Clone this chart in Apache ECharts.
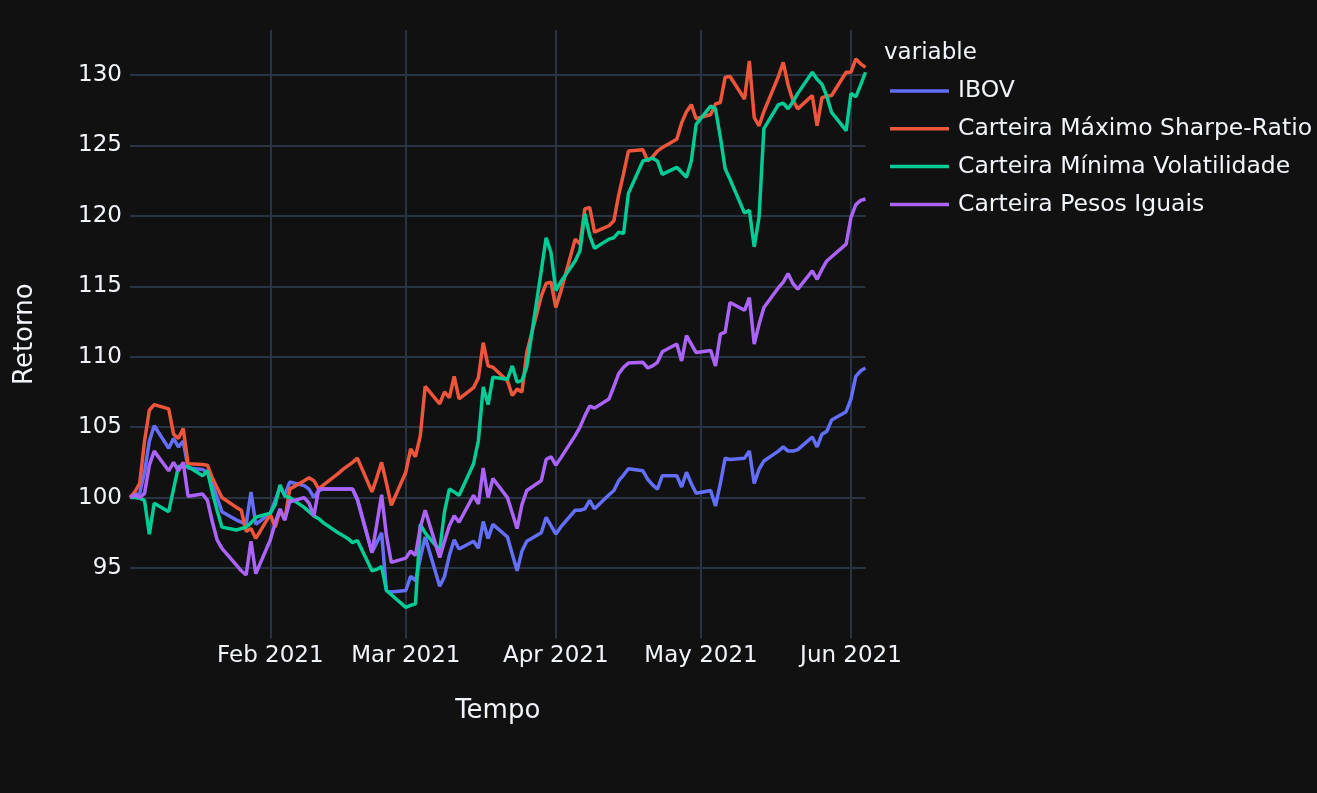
<!DOCTYPE html>
<html>
<head>
<meta charset="utf-8">
<title>Retorno das carteiras</title>
<script src="https://cdn.jsdelivr.net/npm/echarts@6/dist/echarts.min.js"></script>
<style>
  html, body { margin: 0; padding: 0; background: #111111; }
  #retorno { width: 1317px; height: 793px; }
</style>
</head>
<body>
<div id="retorno"></div>
<script>
// datas (dias úteis) e retornos acumulados, base 100
var datas = [
  '2021-01-03',
  '2021-01-04','2021-01-05','2021-01-06','2021-01-07','2021-01-08',
  '2021-01-11','2021-01-12','2021-01-13','2021-01-14','2021-01-15',
  '2021-01-18','2021-01-19','2021-01-20','2021-01-21','2021-01-22',
  '2021-01-25','2021-01-26','2021-01-27','2021-01-28','2021-01-29',
  '2021-02-01','2021-02-02','2021-02-03','2021-02-04','2021-02-05',
  '2021-02-08','2021-02-09','2021-02-10','2021-02-11','2021-02-12',
  '2021-02-15','2021-02-16','2021-02-17','2021-02-18','2021-02-19',
  '2021-02-22','2021-02-23','2021-02-24','2021-02-25','2021-02-26',
  '2021-03-01','2021-03-02','2021-03-03','2021-03-04','2021-03-05',
  '2021-03-08','2021-03-09','2021-03-10','2021-03-11','2021-03-12',
  '2021-03-15','2021-03-16','2021-03-17','2021-03-18','2021-03-19',
  '2021-03-22','2021-03-23','2021-03-24','2021-03-25','2021-03-26',
  '2021-03-29','2021-03-30','2021-03-31','2021-04-01','2021-04-02',
  '2021-04-05','2021-04-06','2021-04-07','2021-04-08','2021-04-09',
  '2021-04-12','2021-04-13','2021-04-14','2021-04-15','2021-04-16',
  '2021-04-19','2021-04-20','2021-04-21','2021-04-22','2021-04-23',
  '2021-04-26','2021-04-27','2021-04-28','2021-04-29','2021-04-30',
  '2021-05-03','2021-05-04','2021-05-05','2021-05-06','2021-05-07',
  '2021-05-10','2021-05-11','2021-05-12','2021-05-13','2021-05-14',
  '2021-05-17','2021-05-18','2021-05-19','2021-05-20','2021-05-21',
  '2021-05-24','2021-05-25','2021-05-26','2021-05-27','2021-05-28',
  '2021-05-31','2021-06-01','2021-06-02','2021-06-03','2021-06-04'
];

var ibov = [
  100,
  100.2, 100.3, 101.8, 104.0, 105.1,
  103.5, 104.2, 103.6, 104.0, 102.1,
  102.0, 101.8, 101.0, 100.0, 99.0,
  98.4, 98.25, 98.1, 100.4, 98.1,
  98.9, 99.8, 100.7, 100.2, 101.1,
  100.85, 100.6, 100.0, 100.5, 100.6,
  100.6, 100.6, 100.6, 100.6, 99.8,
  96.1, 96.8, 97.5, 93.4, 93.3,
  93.4, 94.4, 94.1, 95.7, 97.2,
  93.7, 94.4, 95.9, 97.0, 96.35,
  96.9, 96.4, 98.3, 97.1, 98.1,
  97.2, 96.0, 94.8, 96.2, 96.9,
  97.5, 98.6, 98.0, 97.4, 97.9,
  99.1, 99.1, 99.2, 99.8, 99.2,
  100.2, 100.5, 101.2, 101.6, 102.05,
  101.9, 101.3, 100.9, 100.6, 101.55,
  101.55, 100.75, 101.8, 101.0, 100.3,
  100.5, 99.4, 101.0, 102.8, 102.7,
  102.8, 103.3, 101.0, 102.0, 102.6,
  103.3, 103.6, 103.3, 103.3, 103.4,
  104.3, 103.6, 104.5, 104.7, 105.5,
  106.1, 107.0, 108.6, 109.0, 109.2
];

var maxSharpe = [
  100,
  100.4, 101.0, 104.0, 106.2, 106.6,
  106.3, 104.5, 104.2, 104.9, 102.4,
  102.35, 102.3, 101.4, 100.7, 100.0,
  99.3, 99.1, 97.6, 97.8, 97.1,
  98.8, 97.9, 99.1, 98.4, 100.6,
  101.2, 101.4, 101.2, 100.6, 100.9,
  101.7, 102.0, 102.25, 102.5, 102.8,
  100.4, 101.4, 102.5, 101.0, 99.45,
  101.8, 103.45, 102.9, 104.4, 107.9,
  106.65, 107.5, 107.1, 108.6, 107.0,
  107.8, 108.5, 111.0, 109.35, 109.25,
  108.3, 107.25, 107.7, 107.5, 110.3,
  114.3, 115.2, 115.3, 113.5, 114.6,
  118.35, 118.0, 120.5, 120.6, 118.85,
  119.3, 119.65, 121.5, 123.0, 124.6,
  124.7, 123.9, 124.2, 124.6, 124.85,
  125.45, 126.6, 127.4, 127.9, 126.9,
  127.2, 127.95, 128.05, 129.85, 129.9,
  128.3, 131.0, 127.0, 126.4, 127.4,
  129.9, 130.9, 129.3, 128.2, 127.6,
  128.55, 126.4, 128.4, 128.5, 128.55,
  130.2, 130.2, 131.15, 130.8, 130.55
];

var minVol = [
  100,
  100.0, 99.95, 99.8, 97.4, 99.6,
  99.0, 100.6, 102.2, 102.2, 102.2,
  101.55, 101.9, 100.4, 99.1, 97.9,
  97.7, 97.8, 97.9, 98.2, 98.6,
  98.9, 99.5, 100.9, 100.1, 100.0,
  99.3, 99.0, 98.7, 98.5, 98.2,
  97.5, 97.3, 97.1, 96.8, 96.95,
  94.8, 94.9, 95.1, 93.4, 93.1,
  92.2, 92.35, 92.45, 98.1, 97.5,
  96.25, 99.0, 100.6, 100.4, 100.15,
  102.4, 104.05, 107.85, 106.6, 108.55,
  108.4, 109.35, 108.2, 108.3, 109.3,
  116.1, 118.45, 117.4, 114.7, 115.3,
  116.8, 117.55, 120.15, 118.6, 117.7,
  118.35, 118.45, 118.85, 118.75, 121.6,
  123.9, 124.0, 124.1, 123.9, 122.95,
  123.45, 123.1, 122.75, 123.9, 126.5,
  127.8, 127.6, 125.6, 123.35, 122.6,
  120.2, 120.4, 117.8, 119.9, 126.2,
  127.9, 128.0, 127.6, 128.1, 128.7,
  130.2, 129.7, 129.35, 128.5, 127.35,
  126.05, 128.7, 128.45, 129.3, 130.2
];

var pesosIguais = [
  100,
  100.2, 100.0, 100.3, 102.3, 103.3,
  101.9, 102.5, 101.9, 102.5, 100.1,
  100.25, 99.8, 98.3, 97.0, 96.4,
  95.2, 94.8, 94.5, 96.9, 94.6,
  97.0, 98.2, 99.2, 98.4, 99.7,
  100.0, 99.6, 98.7, 100.6, 100.6,
  100.6, 100.6, 100.6, 100.6, 99.9,
  96.1, 98.1, 100.2, 97.3, 95.4,
  95.7, 96.2, 95.9, 97.9, 99.1,
  95.75, 96.9, 98.0, 98.7, 98.25,
  100.15, 99.55, 102.1, 100.0, 101.35,
  100.0, 98.9, 97.8, 99.5, 100.5,
  101.2, 102.7, 102.9, 102.3, 102.8,
  104.4, 105.0, 105.8, 106.5, 106.35,
  107.0, 107.9, 108.8, 109.25, 109.55,
  109.6, 109.2, 109.35, 109.6, 110.35,
  110.9, 109.7, 111.5, 110.9, 110.3,
  110.45, 109.35, 111.6, 111.75, 113.85,
  113.3, 114.2, 110.9, 112.3, 113.5,
  114.9, 115.3, 115.9, 115.2, 114.8,
  116.1, 115.5, 116.2, 116.8, 117.1,
  118.0, 119.9, 120.8, 121.1, 121.2
];

var nomes = ['IBOV', 'Carteira Máximo Sharpe-Ratio', 'Carteira Mínima Volatilidade', 'Carteira Pesos Iguais'];
var cores = ['#636efa', '#EF553B', '#00cc96', '#ab63fa'];
var meses = ['Jan', 'Feb', 'Mar', 'Apr', 'May', 'Jun', 'Jul', 'Aug', 'Sep', 'Oct', 'Nov', 'Dec'];
var yTicks = [95, 100, 105, 110, 115, 120, 125, 130];

var DIA = 24 * 3600 * 1000;
var fonte = 'DejaVu Sans, Verdana, sans-serif';
var corTexto = '#f2f5fa';
var corGrade = '#283442';

function pares(valores) {
  return datas.map(function (d, i) { return [d, valores[i]]; });
}

var series = [ibov, maxSharpe, minVol, pesosIguais].map(function (valores, i) {
  return {
    name: nomes[i],
    type: 'line',
    data: pares(valores),
    symbol: 'none',
    lineStyle: { width: 3.5, color: cores[i] },
    itemStyle: { color: cores[i] }
  };
});

var myChart = echarts.init(document.getElementById('retorno'));

var option = {
  backgroundColor: '#111111',
  animation: false,
  textStyle: { fontFamily: fonte, color: corTexto },
  // título da legenda (plotly mostra o nome da coluna)
  title: {
    text: 'variable',
    left: 884,
    top: 42,
    padding: 0,
    textStyle: { color: corTexto, fontFamily: fonte, fontSize: 23, fontWeight: 'normal' }
  },
  legend: {
    orient: 'vertical',
    left: 890,
    top: 79,
    padding: 0,
    icon: 'rect',
    itemWidth: 59,
    itemHeight: 3.5,
    itemGap: 13.8,
    data: nomes,
    textStyle: { color: corTexto, fontFamily: fonte, fontSize: 23.5, padding: [0, 0, 0, 4] }
  },
  tooltip: { trigger: 'axis' },
  grid: { left: 130, right: 451.5, top: 30, bottom: 154.6, containLabel: false },
  xAxis: {
    type: 'time',
    min: datas[0],
    max: datas[datas.length - 1],
    splitNumber: 5,
    minInterval: 28 * DIA,
    maxInterval: 31 * DIA,
    name: 'Tempo',
    nameLocation: 'middle',
    nameGap: 60,
    nameTextStyle: { color: corTexto, fontFamily: fonte, fontSize: 26 },
    axisLine: { show: false },
    axisTick: { show: false },
    axisLabel: {
      color: corTexto,
      fontFamily: fonte,
      fontSize: 23,
      margin: 6,
      showMinLabel: false,
      showMaxLabel: false,
      formatter: function (v) {
        var d = new Date(v);
        return meses[d.getMonth()] + ' ' + d.getFullYear();
      }
    },
    splitLine: { show: true, showMinLine: false, showMaxLine: false, lineStyle: { color: corGrade, width: 2 } }
  },
  yAxis: {
    type: 'value',
    min: 90,
    max: 133.2,
    interval: 5,
    name: 'Retorno',
    nameLocation: 'middle',
    nameGap: 92,
    nameTextStyle: { color: corTexto, fontFamily: fonte, fontSize: 26 },
    axisLine: { show: false },
    axisTick: { show: false },
    axisLabel: {
      color: corTexto,
      fontFamily: fonte,
      fontSize: 23,
      margin: 8,
      showMinLabel: false,
      showMaxLabel: false,
      formatter: function (v) { return yTicks.indexOf(v) >= 0 ? String(v) : ''; }
    },
    splitLine: { show: true, showMinLine: false, showMaxLine: false, lineStyle: { color: corGrade, width: 2 } }
  },
  series: series
};

myChart.setOption(option);
</script>
</body>
</html>
